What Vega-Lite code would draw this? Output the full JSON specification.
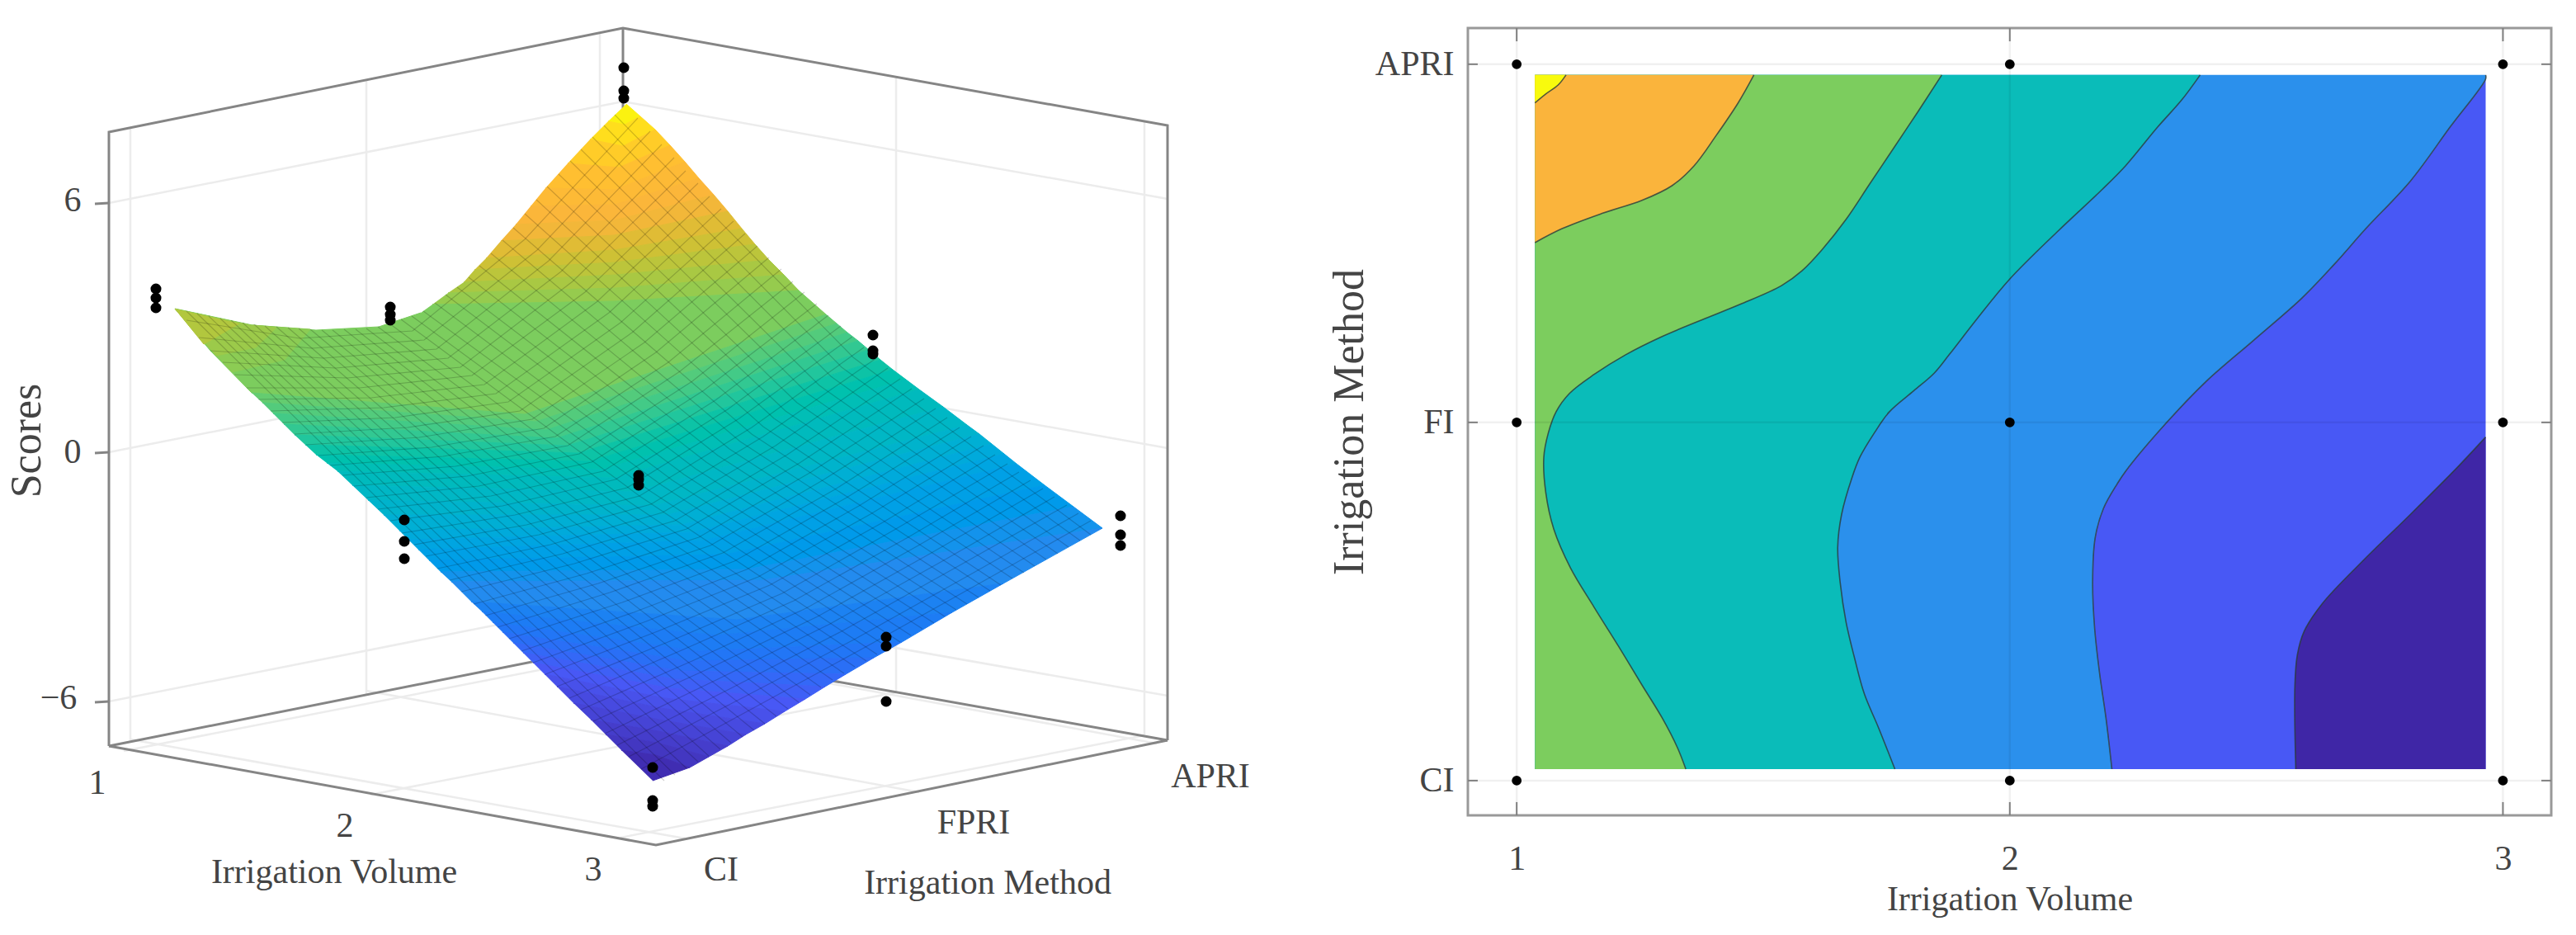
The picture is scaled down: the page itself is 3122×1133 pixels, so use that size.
{"$schema":"https://vega.github.io/schema/vega-lite/v6.json","padding":{"left":0,"top":27,"right":0,"bottom":0},"background":"white","spacing":0,"config":{"text":{"font":"Liberation Serif"},"axis":{"labelFont":"Liberation Serif","titleFont":"Liberation Serif"}},
"datasets":{
"frame":[{"g":"a","x":132,"y":903},{"g":"a","x":132,"y":159},{"g":"a","x":755,"y":33},{"g":"a","x":1415,"y":151},{"g":"a","x":1415,"y":896},{"g":"b","x":755,"y":33},{"g":"b","x":755,"y":780},{"g":"c","x":132,"y":903},{"g":"c","x":755,"y":779},{"g":"c","x":1415,"y":896},{"g":"d","x":132,"y":903},{"g":"d","x":795,"y":1023},{"g":"d","x":1415,"y":896},{"g":"e","x":115,"y":246},{"g":"e","x":132,"y":245},{"g":"f","x":115,"y":548},{"g":"f","x":132,"y":547},{"g":"h","x":115,"y":850},{"g":"h","x":132,"y":849}],
"grid":[{"g":"1","x":158,"y":154},{"g":"1","x":158,"y":897},{"g":"2","x":444,"y":97},{"g":"2","x":444,"y":840},{"g":"3","x":727,"y":39},{"g":"3","x":727,"y":775},{"g":"4","x":1086,"y":92},{"g":"4","x":1086,"y":838},{"g":"5","x":1387,"y":146},{"g":"5","x":1387,"y":889},{"g":"6","x":132,"y":245},{"g":"6","x":755,"y":122},{"g":"6","x":1415,"y":240},{"g":"7","x":132,"y":547},{"g":"7","x":755,"y":424},{"g":"7","x":1415,"y":542},{"g":"8","x":132,"y":849},{"g":"8","x":755,"y":726},{"g":"8","x":1415,"y":842},{"g":"9","x":150,"y":909},{"g":"9","x":787,"y":785},{"g":"10","x":449,"y":962},{"g":"10","x":1086,"y":838},{"g":"11","x":752,"y":1014},{"g":"11","x":1387,"y":890},{"g":"12","x":830,"y":1015},{"g":"12","x":158,"y":895},{"g":"13","x":1114,"y":959},{"g":"13","x":444,"y":836},{"g":"14","x":1402,"y":900},{"g":"14","x":727,"y":776}],
"surface":[
{"b":1,"c":0.99,"x":759,"y":125},{"b":1,"c":0.99,"x":776,"y":140},{"b":1,"c":0.99,"x":757,"y":150},{"b":1,"c":0.99,"x":737,"y":146},
{"b":2,"c":0.9625,"x":737,"y":146},{"b":2,"c":0.9625,"x":757,"y":150},{"b":2,"c":0.9625,"x":776,"y":140},{"b":2,"c":0.9625,"x":794,"y":156},{"b":2,"c":0.9625,"x":755,"y":176},{"b":2,"c":0.9625,"x":715,"y":168},
{"b":3,"c":0.9375,"x":715,"y":168},{"b":3,"c":0.9375,"x":755,"y":176},{"b":3,"c":0.9375,"x":794,"y":156},{"b":3,"c":0.9375,"x":812,"y":175},{"b":3,"c":0.9375,"x":750,"y":202},{"b":3,"c":0.9375,"x":688,"y":197},
{"b":4,"c":0.9125,"x":688,"y":197},{"b":4,"c":0.9125,"x":750,"y":202},{"b":4,"c":0.9125,"x":812,"y":175},{"b":4,"c":0.9125,"x":830,"y":195},{"b":4,"c":0.9125,"x":745,"y":229},{"b":4,"c":0.9125,"x":661,"y":227},
{"b":5,"c":0.8875,"x":661,"y":227},{"b":5,"c":0.8875,"x":745,"y":229},{"b":5,"c":0.8875,"x":830,"y":195},{"b":5,"c":0.8875,"x":847,"y":215},{"b":5,"c":0.8875,"x":745,"y":247},{"b":5,"c":0.8875,"x":643,"y":249},
{"b":6,"c":0.8625,"x":643,"y":249},{"b":6,"c":0.8625,"x":745,"y":247},{"b":6,"c":0.8625,"x":847,"y":215},{"b":6,"c":0.8625,"x":865,"y":235},{"b":6,"c":0.8625,"x":745,"y":266},{"b":6,"c":0.8625,"x":625,"y":271},
{"b":7,"c":0.8375,"x":625,"y":271},{"b":7,"c":0.8375,"x":745,"y":266},{"b":7,"c":0.8375,"x":865,"y":235},{"b":7,"c":0.8375,"x":882,"y":255},{"b":7,"c":0.8375,"x":744,"y":284},{"b":7,"c":0.8375,"x":607,"y":291},
{"b":8,"c":0.8125,"x":607,"y":291},{"b":8,"c":0.8125,"x":744,"y":284},{"b":8,"c":0.8125,"x":882,"y":255},{"b":8,"c":0.8125,"x":899,"y":276},{"b":8,"c":0.8125,"x":744,"y":302},{"b":8,"c":0.8125,"x":589,"y":312},
{"b":9,"c":0.7875,"x":589,"y":312},{"b":9,"c":0.7875,"x":744,"y":302},{"b":9,"c":0.7875,"x":899,"y":276},{"b":9,"c":0.7875,"x":915,"y":295},{"b":9,"c":0.7875,"x":745,"y":317},{"b":9,"c":0.7875,"x":575,"y":326},
{"b":10,"c":0.7625,"x":575,"y":326},{"b":10,"c":0.7625,"x":745,"y":317},{"b":10,"c":0.7625,"x":915,"y":295},{"b":10,"c":0.7625,"x":932,"y":314},{"b":10,"c":0.7625,"x":747,"y":332},{"b":10,"c":0.7625,"x":562,"y":341},
{"b":11,"c":0.7375,"x":562,"y":341},{"b":11,"c":0.7375,"x":747,"y":332},{"b":11,"c":0.7375,"x":932,"y":314},{"b":11,"c":0.7375,"x":950,"y":332},{"b":11,"c":0.7375,"x":746,"y":348},{"b":11,"c":0.7375,"x":543,"y":354},
{"b":12,"c":0.7125,"x":543,"y":354},{"b":12,"c":0.7125,"x":746,"y":348},{"b":12,"c":0.7125,"x":950,"y":332},{"b":12,"c":0.7125,"x":968,"y":351},{"b":12,"c":0.7125,"x":745,"y":364},{"b":12,"c":0.7125,"x":524,"y":368},
{"b":13,"c":0.68,"x":524,"y":368},{"b":13,"c":0.68,"x":745,"y":364},{"b":13,"c":0.68,"x":968,"y":351},{"b":13,"c":0.68,"x":1001,"y":380},{"b":13,"c":0.68,"x":636,"y":501},{"b":13,"c":0.68,"x":305,"y":475},{"b":13,"c":0.68,"x":255,"y":424},{"b":13,"c":0.68,"x":212,"y":373},{"b":13,"c":0.68,"x":306,"y":393},{"b":13,"c":0.68,"x":383,"y":399},{"b":13,"c":0.68,"x":459,"y":395},{"b":13,"c":0.68,"x":510,"y":378},
{"b":14,"c":0.7,"x":212,"y":373},{"b":14,"c":0.7,"x":281,"y":450},{"b":14,"c":0.7,"x":345,"y":435},{"b":14,"c":0.7,"x":376,"y":398},{"b":14,"c":0.7,"x":306,"y":393},
{"b":15,"c":0.72,"x":212,"y":373},{"b":15,"c":0.72,"x":262,"y":430},{"b":15,"c":0.72,"x":310,"y":420},{"b":15,"c":0.72,"x":335,"y":396},{"b":15,"c":0.72,"x":306,"y":393},
{"b":16,"c":0.75,"x":212,"y":373},{"b":16,"c":0.75,"x":247,"y":416},{"b":16,"c":0.75,"x":290,"y":391},
{"b":17,"c":0.65,"x":305,"y":475},{"b":17,"c":0.65,"x":636,"y":501},{"b":17,"c":0.65,"x":1001,"y":380},{"b":17,"c":0.65,"x":1014,"y":391},{"b":17,"c":0.65,"x":649,"y":510},{"b":17,"c":0.65,"x":318,"y":487},
{"b":18,"c":0.63,"x":318,"y":487},{"b":18,"c":0.63,"x":649,"y":510},{"b":18,"c":0.63,"x":1014,"y":391},{"b":18,"c":0.63,"x":1027,"y":402},{"b":18,"c":0.63,"x":662,"y":520},{"b":18,"c":0.63,"x":331,"y":500},
{"b":19,"c":0.61,"x":331,"y":500},{"b":19,"c":0.61,"x":662,"y":520},{"b":19,"c":0.61,"x":1027,"y":402},{"b":19,"c":0.61,"x":1040,"y":412},{"b":19,"c":0.61,"x":675,"y":530},{"b":19,"c":0.61,"x":344,"y":513},
{"b":20,"c":0.59,"x":344,"y":513},{"b":20,"c":0.59,"x":675,"y":530},{"b":20,"c":0.59,"x":1040,"y":412},{"b":20,"c":0.59,"x":1053,"y":423},{"b":20,"c":0.59,"x":688,"y":539},{"b":20,"c":0.59,"x":357,"y":526},
{"b":21,"c":0.57,"x":357,"y":526},{"b":21,"c":0.57,"x":688,"y":539},{"b":21,"c":0.57,"x":1053,"y":423},{"b":21,"c":0.57,"x":1067,"y":435},{"b":21,"c":0.57,"x":701,"y":548},{"b":21,"c":0.57,"x":370,"y":538},
{"b":22,"c":0.55,"x":370,"y":538},{"b":22,"c":0.55,"x":701,"y":548},{"b":22,"c":0.55,"x":1067,"y":435},{"b":22,"c":0.55,"x":1082,"y":447},{"b":22,"c":0.55,"x":715,"y":558},{"b":22,"c":0.55,"x":383,"y":550},
{"b":23,"c":0.53,"x":383,"y":550},{"b":23,"c":0.53,"x":715,"y":558},{"b":23,"c":0.53,"x":1082,"y":447},{"b":23,"c":0.53,"x":1098,"y":459},{"b":23,"c":0.53,"x":729,"y":568},{"b":23,"c":0.53,"x":396,"y":560},
{"b":24,"c":0.51,"x":396,"y":560},{"b":24,"c":0.51,"x":729,"y":568},{"b":24,"c":0.51,"x":1098,"y":459},{"b":24,"c":0.51,"x":1114,"y":471},{"b":24,"c":0.51,"x":744,"y":578},{"b":24,"c":0.51,"x":409,"y":570},
{"b":25,"c":0.49,"x":409,"y":570},{"b":25,"c":0.49,"x":744,"y":578},{"b":25,"c":0.49,"x":1114,"y":471},{"b":25,"c":0.49,"x":1143,"y":492},{"b":25,"c":0.49,"x":768,"y":595},{"b":25,"c":0.49,"x":427,"y":587},
{"b":26,"c":0.47,"x":427,"y":587},{"b":26,"c":0.47,"x":768,"y":595},{"b":26,"c":0.47,"x":1143,"y":492},{"b":26,"c":0.47,"x":1172,"y":514},{"b":26,"c":0.47,"x":792,"y":612},{"b":26,"c":0.47,"x":446,"y":605},
{"b":27,"c":0.45,"x":446,"y":605},{"b":27,"c":0.45,"x":792,"y":612},{"b":27,"c":0.45,"x":1172,"y":514},{"b":27,"c":0.45,"x":1187,"y":525},{"b":27,"c":0.45,"x":809,"y":623},{"b":27,"c":0.45,"x":465,"y":623},
{"b":28,"c":0.43,"x":465,"y":623},{"b":28,"c":0.43,"x":809,"y":623},{"b":28,"c":0.43,"x":1187,"y":525},{"b":28,"c":0.43,"x":1202,"y":537},{"b":28,"c":0.43,"x":826,"y":635},{"b":28,"c":0.43,"x":484,"y":642},
{"b":29,"c":0.41,"x":484,"y":642},{"b":29,"c":0.41,"x":826,"y":635},{"b":29,"c":0.41,"x":1202,"y":537},{"b":29,"c":0.41,"x":1217,"y":549},{"b":29,"c":0.41,"x":839,"y":644},{"b":29,"c":0.41,"x":495,"y":653},
{"b":30,"c":0.39,"x":495,"y":653},{"b":30,"c":0.39,"x":839,"y":644},{"b":30,"c":0.39,"x":1217,"y":549},{"b":30,"c":0.39,"x":1232,"y":561},{"b":30,"c":0.39,"x":853,"y":654},{"b":30,"c":0.39,"x":507,"y":665},
{"b":31,"c":0.37,"x":507,"y":665},{"b":31,"c":0.37,"x":853,"y":654},{"b":31,"c":0.37,"x":1232,"y":561},{"b":31,"c":0.37,"x":1266,"y":587},{"b":31,"c":0.37,"x":879,"y":671},{"b":31,"c":0.37,"x":520,"y":678},
{"b":32,"c":0.35,"x":520,"y":678},{"b":32,"c":0.35,"x":879,"y":671},{"b":32,"c":0.35,"x":1266,"y":587},{"b":32,"c":0.35,"x":1301,"y":613},{"b":32,"c":0.35,"x":905,"y":689},{"b":32,"c":0.35,"x":534,"y":692},
{"b":33,"c":0.33,"x":534,"y":692},{"b":33,"c":0.33,"x":905,"y":689},{"b":33,"c":0.33,"x":1301,"y":613},{"b":33,"c":0.33,"x":1336,"y":639},{"b":33,"c":0.33,"x":924,"y":702},{"b":33,"c":0.33,"x":547,"y":704},
{"b":34,"c":0.3,"x":547,"y":704},{"b":34,"c":0.3,"x":924,"y":702},{"b":34,"c":0.3,"x":1336,"y":639},{"b":34,"c":0.3,"x":1216,"y":706},{"b":34,"c":0.3,"x":893,"y":750},{"b":34,"c":0.3,"x":571,"y":728},
{"b":35,"c":0.27,"x":571,"y":728},{"b":35,"c":0.27,"x":893,"y":750},{"b":35,"c":0.27,"x":1216,"y":706},{"b":35,"c":0.27,"x":1154,"y":741},{"b":35,"c":0.27,"x":869,"y":769},{"b":35,"c":0.27,"x":584,"y":740},
{"b":36,"c":0.25,"x":584,"y":740},{"b":36,"c":0.25,"x":869,"y":769},{"b":36,"c":0.25,"x":1154,"y":741},{"b":36,"c":0.25,"x":1093,"y":777},{"b":36,"c":0.25,"x":845,"y":788},{"b":36,"c":0.25,"x":597,"y":753},
{"b":37,"c":0.23,"x":597,"y":753},{"b":37,"c":0.23,"x":845,"y":788},{"b":37,"c":0.23,"x":1093,"y":777},{"b":37,"c":0.23,"x":1059,"y":796},{"b":37,"c":0.23,"x":834,"y":800},{"b":37,"c":0.23,"x":609,"y":765},
{"b":38,"c":0.21,"x":609,"y":765},{"b":38,"c":0.21,"x":834,"y":800},{"b":38,"c":0.21,"x":1059,"y":796},{"b":38,"c":0.21,"x":1025,"y":816},{"b":38,"c":0.21,"x":824,"y":812},{"b":38,"c":0.21,"x":622,"y":778},
{"b":39,"c":0.19,"x":622,"y":778},{"b":39,"c":0.19,"x":824,"y":812},{"b":39,"c":0.19,"x":1025,"y":816},{"b":39,"c":0.19,"x":1000,"y":831},{"b":39,"c":0.19,"x":818,"y":822},{"b":39,"c":0.19,"x":634,"y":790},
{"b":40,"c":0.17,"x":634,"y":790},{"b":40,"c":0.17,"x":818,"y":822},{"b":40,"c":0.17,"x":1000,"y":831},{"b":40,"c":0.17,"x":976,"y":846},{"b":40,"c":0.17,"x":812,"y":833},{"b":40,"c":0.17,"x":646,"y":802},
{"b":41,"c":0.15,"x":646,"y":802},{"b":41,"c":0.15,"x":812,"y":833},{"b":41,"c":0.15,"x":976,"y":846},{"b":41,"c":0.15,"x":951,"y":861},{"b":41,"c":0.15,"x":806,"y":845},{"b":41,"c":0.15,"x":660,"y":816},
{"b":42,"c":0.13,"x":660,"y":816},{"b":42,"c":0.13,"x":806,"y":845},{"b":42,"c":0.13,"x":951,"y":861},{"b":42,"c":0.13,"x":927,"y":876},{"b":42,"c":0.13,"x":801,"y":857},{"b":42,"c":0.13,"x":675,"y":831},
{"b":43,"c":0.11,"x":675,"y":831},{"b":43,"c":0.11,"x":801,"y":857},{"b":43,"c":0.11,"x":927,"y":876},{"b":43,"c":0.11,"x":904,"y":889},{"b":43,"c":0.11,"x":799,"y":871},{"b":43,"c":0.11,"x":695,"y":851},
{"b":44,"c":0.09,"x":695,"y":851},{"b":44,"c":0.09,"x":799,"y":871},{"b":44,"c":0.09,"x":904,"y":889},{"b":44,"c":0.09,"x":882,"y":903},{"b":44,"c":0.09,"x":798,"y":885},{"b":44,"c":0.09,"x":716,"y":871},
{"b":45,"c":0.07,"x":716,"y":871},{"b":45,"c":0.07,"x":798,"y":885},{"b":45,"c":0.07,"x":882,"y":903},{"b":45,"c":0.07,"x":859,"y":916},{"b":45,"c":0.07,"x":796,"y":899},{"b":45,"c":0.07,"x":734,"y":889},
{"b":46,"c":0.05,"x":734,"y":889},{"b":46,"c":0.05,"x":796,"y":899},{"b":46,"c":0.05,"x":859,"y":916},{"b":46,"c":0.05,"x":836,"y":929},{"b":46,"c":0.05,"x":795,"y":914},{"b":46,"c":0.05,"x":753,"y":908},
{"b":47,"c":0.02,"x":753,"y":908},{"b":47,"c":0.02,"x":795,"y":914},{"b":47,"c":0.02,"x":836,"y":929},{"b":47,"c":0.02,"x":791,"y":945}],
"mesh":[
{"l":1,"x":226,"y":387},{"l":1,"x":363,"y":409},{"l":1,"x":500,"y":400},{"l":1,"x":636,"y":289},{"l":1,"x":773,"y":142},
{"l":2,"x":241,"y":408},{"l":2,"x":378,"y":421},{"l":2,"x":514,"y":411},{"l":2,"x":651,"y":302},{"l":2,"x":788,"y":158},
{"l":3,"x":255,"y":424},{"l":3,"x":392,"y":433},{"l":3,"x":529,"y":422},{"l":3,"x":665,"y":315},{"l":3,"x":802,"y":174},
{"l":4,"x":270,"y":438},{"l":4,"x":407,"y":445},{"l":4,"x":543,"y":433},{"l":4,"x":680,"y":328},{"l":4,"x":817,"y":190},
{"l":5,"x":284,"y":453},{"l":5,"x":421,"y":457},{"l":5,"x":558,"y":444},{"l":5,"x":694,"y":340},{"l":5,"x":831,"y":206},
{"l":6,"x":299,"y":469},{"l":6,"x":436,"y":469},{"l":6,"x":572,"y":454},{"l":6,"x":709,"y":353},{"l":6,"x":846,"y":221},
{"l":7,"x":313,"y":483},{"l":7,"x":450,"y":481},{"l":7,"x":587,"y":465},{"l":7,"x":723,"y":365},{"l":7,"x":860,"y":237},
{"l":8,"x":328,"y":497},{"l":8,"x":465,"y":493},{"l":8,"x":601,"y":476},{"l":8,"x":738,"y":378},{"l":8,"x":874,"y":252},
{"l":9,"x":342,"y":511},{"l":9,"x":479,"y":505},{"l":9,"x":616,"y":486},{"l":9,"x":752,"y":390},{"l":9,"x":889,"y":267},
{"l":10,"x":357,"y":525},{"l":10,"x":494,"y":517},{"l":10,"x":630,"y":497},{"l":10,"x":766,"y":402},{"l":10,"x":903,"y":282},
{"l":11,"x":371,"y":538},{"l":11,"x":508,"y":529},{"l":11,"x":645,"y":507},{"l":11,"x":781,"y":414},{"l":11,"x":918,"y":297},
{"l":12,"x":386,"y":551},{"l":12,"x":523,"y":541},{"l":12,"x":659,"y":518},{"l":12,"x":795,"y":426},{"l":12,"x":932,"y":311},
{"l":13,"x":400,"y":563},{"l":13,"x":537,"y":552},{"l":13,"x":673,"y":528},{"l":13,"x":810,"y":438},{"l":13,"x":947,"y":325},
{"l":14,"x":415,"y":575},{"l":14,"x":552,"y":564},{"l":14,"x":688,"y":539},{"l":14,"x":824,"y":449},{"l":14,"x":961,"y":340},
{"l":15,"x":429,"y":588},{"l":15,"x":566,"y":576},{"l":15,"x":702,"y":549},{"l":15,"x":839,"y":461},{"l":15,"x":975,"y":353},
{"l":16,"x":444,"y":602},{"l":16,"x":580,"y":588},{"l":16,"x":717,"y":559},{"l":16,"x":853,"y":472},{"l":16,"x":990,"y":367},
{"l":17,"x":458,"y":616},{"l":17,"x":595,"y":600},{"l":17,"x":731,"y":570},{"l":17,"x":867,"y":484},{"l":17,"x":1004,"y":381},
{"l":18,"x":473,"y":630},{"l":18,"x":609,"y":612},{"l":18,"x":746,"y":580},{"l":18,"x":882,"y":495},{"l":18,"x":1019,"y":394},
{"l":19,"x":487,"y":645},{"l":19,"x":624,"y":623},{"l":19,"x":760,"y":590},{"l":19,"x":896,"y":506},{"l":19,"x":1033,"y":407},
{"l":20,"x":502,"y":659},{"l":20,"x":638,"y":635},{"l":20,"x":775,"y":600},{"l":20,"x":911,"y":517},{"l":20,"x":1047,"y":420},
{"l":21,"x":516,"y":673},{"l":21,"x":653,"y":647},{"l":21,"x":789,"y":610},{"l":21,"x":925,"y":528},{"l":21,"x":1062,"y":433},
{"l":22,"x":530,"y":688},{"l":22,"x":667,"y":659},{"l":22,"x":803,"y":620},{"l":22,"x":940,"y":539},{"l":22,"x":1076,"y":445},
{"l":23,"x":545,"y":702},{"l":23,"x":682,"y":670},{"l":23,"x":818,"y":630},{"l":23,"x":954,"y":550},{"l":23,"x":1091,"y":458},
{"l":24,"x":559,"y":716},{"l":24,"x":696,"y":682},{"l":24,"x":832,"y":640},{"l":24,"x":969,"y":560},{"l":24,"x":1105,"y":470},
{"l":25,"x":574,"y":731},{"l":25,"x":711,"y":694},{"l":25,"x":847,"y":650},{"l":25,"x":983,"y":571},{"l":25,"x":1120,"y":482},
{"l":26,"x":588,"y":745},{"l":26,"x":725,"y":706},{"l":26,"x":861,"y":660},{"l":26,"x":997,"y":581},{"l":26,"x":1134,"y":494},
{"l":27,"x":603,"y":759},{"l":27,"x":739,"y":717},{"l":27,"x":876,"y":669},{"l":27,"x":1012,"y":592},{"l":27,"x":1148,"y":505},
{"l":28,"x":617,"y":773},{"l":28,"x":754,"y":729},{"l":28,"x":890,"y":679},{"l":28,"x":1026,"y":602},{"l":28,"x":1163,"y":517},
{"l":29,"x":632,"y":788},{"l":29,"x":768,"y":741},{"l":29,"x":905,"y":689},{"l":29,"x":1041,"y":612},{"l":29,"x":1177,"y":528},
{"l":30,"x":646,"y":802},{"l":30,"x":783,"y":752},{"l":30,"x":919,"y":698},{"l":30,"x":1055,"y":622},{"l":30,"x":1192,"y":539},
{"l":31,"x":661,"y":816},{"l":31,"x":797,"y":764},{"l":31,"x":933,"y":708},{"l":31,"x":1070,"y":632},{"l":31,"x":1206,"y":550},
{"l":32,"x":675,"y":831},{"l":32,"x":812,"y":776},{"l":32,"x":948,"y":718},{"l":32,"x":1084,"y":641},{"l":32,"x":1221,"y":561},
{"l":33,"x":690,"y":845},{"l":33,"x":826,"y":787},{"l":33,"x":962,"y":727},{"l":33,"x":1099,"y":651},{"l":33,"x":1235,"y":571},
{"l":34,"x":704,"y":859},{"l":34,"x":841,"y":799},{"l":34,"x":977,"y":736},{"l":34,"x":1113,"y":660},{"l":34,"x":1249,"y":581},
{"l":35,"x":719,"y":873},{"l":35,"x":855,"y":811},{"l":35,"x":991,"y":746},{"l":35,"x":1127,"y":670},{"l":35,"x":1264,"y":591},
{"l":36,"x":733,"y":888},{"l":36,"x":870,"y":822},{"l":36,"x":1006,"y":755},{"l":36,"x":1142,"y":679},{"l":36,"x":1278,"y":601},
{"l":37,"x":748,"y":902},{"l":37,"x":884,"y":834},{"l":37,"x":1020,"y":764},{"l":37,"x":1156,"y":688},{"l":37,"x":1293,"y":611},
{"l":38,"x":762,"y":916},{"l":38,"x":899,"y":845},{"l":38,"x":1035,"y":774},{"l":38,"x":1171,"y":698},{"l":38,"x":1307,"y":621},
{"l":39,"x":777,"y":931},{"l":39,"x":913,"y":857},{"l":39,"x":1049,"y":783},{"l":39,"x":1185,"y":707},{"l":39,"x":1322,"y":630},
{"l":101,"x":226,"y":376},{"l":101,"x":515,"y":659},{"l":101,"x":805,"y":945},
{"l":102,"x":239,"y":379},{"l":102,"x":529,"y":658},{"l":102,"x":818,"y":938},
{"l":103,"x":253,"y":382},{"l":103,"x":542,"y":658},{"l":103,"x":832,"y":930},
{"l":104,"x":267,"y":385},{"l":104,"x":556,"y":657},{"l":104,"x":846,"y":922},
{"l":105,"x":280,"y":387},{"l":105,"x":570,"y":656},{"l":105,"x":859,"y":915},
{"l":106,"x":294,"y":390},{"l":106,"x":583,"y":654},{"l":106,"x":873,"y":907},
{"l":107,"x":308,"y":392},{"l":107,"x":597,"y":652},{"l":107,"x":886,"y":899},
{"l":108,"x":321,"y":394},{"l":108,"x":611,"y":650},{"l":108,"x":900,"y":892},
{"l":109,"x":335,"y":395},{"l":109,"x":624,"y":647},{"l":109,"x":914,"y":884},
{"l":110,"x":349,"y":396},{"l":110,"x":638,"y":644},{"l":110,"x":927,"y":876},
{"l":111,"x":362,"y":397},{"l":111,"x":652,"y":641},{"l":111,"x":941,"y":867},
{"l":112,"x":376,"y":398},{"l":112,"x":665,"y":638},{"l":112,"x":955,"y":858},
{"l":113,"x":390,"y":399},{"l":113,"x":679,"y":634},{"l":113,"x":968,"y":850},
{"l":114,"x":403,"y":399},{"l":114,"x":693,"y":630},{"l":114,"x":982,"y":841},
{"l":115,"x":417,"y":398},{"l":115,"x":706,"y":626},{"l":115,"x":995,"y":832},
{"l":116,"x":431,"y":398},{"l":116,"x":720,"y":621},{"l":116,"x":1009,"y":823},
{"l":117,"x":444,"y":397},{"l":117,"x":734,"y":616},{"l":117,"x":1023,"y":815},
{"l":118,"x":458,"y":395},{"l":118,"x":747,"y":611},{"l":118,"x":1036,"y":807},
{"l":119,"x":472,"y":391},{"l":119,"x":761,"y":606},{"l":119,"x":1050,"y":800},
{"l":120,"x":486,"y":386},{"l":120,"x":775,"y":600},{"l":120,"x":1063,"y":792},
{"l":121,"x":499,"y":382},{"l":121,"x":788,"y":594},{"l":121,"x":1077,"y":784},
{"l":122,"x":513,"y":376},{"l":122,"x":802,"y":587},{"l":122,"x":1091,"y":777},
{"l":123,"x":527,"y":366},{"l":123,"x":815,"y":581},{"l":123,"x":1104,"y":769},
{"l":124,"x":540,"y":356},{"l":124,"x":829,"y":574},{"l":124,"x":1118,"y":761},
{"l":125,"x":554,"y":347},{"l":125,"x":843,"y":567},{"l":125,"x":1132,"y":754},
{"l":126,"x":568,"y":335},{"l":126,"x":856,"y":559},{"l":126,"x":1145,"y":746},
{"l":127,"x":581,"y":321},{"l":127,"x":870,"y":551},{"l":127,"x":1159,"y":738},
{"l":128,"x":595,"y":306},{"l":128,"x":884,"y":543},{"l":128,"x":1172,"y":731},
{"l":129,"x":609,"y":290},{"l":129,"x":897,"y":534},{"l":129,"x":1186,"y":723},
{"l":130,"x":622,"y":275},{"l":130,"x":911,"y":525},{"l":130,"x":1200,"y":715},
{"l":131,"x":636,"y":258},{"l":131,"x":925,"y":516},{"l":131,"x":1213,"y":708},
{"l":132,"x":650,"y":241},{"l":132,"x":938,"y":506},{"l":132,"x":1227,"y":700},
{"l":133,"x":663,"y":225},{"l":133,"x":952,"y":497},{"l":133,"x":1241,"y":693},
{"l":134,"x":677,"y":210},{"l":134,"x":966,"y":487},{"l":134,"x":1254,"y":685},
{"l":135,"x":691,"y":194},{"l":135,"x":979,"y":476},{"l":135,"x":1268,"y":677},
{"l":136,"x":704,"y":180},{"l":136,"x":993,"y":466},{"l":136,"x":1282,"y":670},
{"l":137,"x":718,"y":165},{"l":137,"x":1007,"y":455},{"l":137,"x":1295,"y":662},
{"l":138,"x":732,"y":151},{"l":138,"x":1020,"y":444},{"l":138,"x":1309,"y":654},
{"l":139,"x":745,"y":138},{"l":139,"x":1034,"y":432},{"l":139,"x":1322,"y":647}],
"points":[{"x":189,"y":349},{"x":189,"y":360},{"x":189,"y":372},{"x":473,"y":371},{"x":473,"y":380},{"x":473,"y":387},{"x":756,"y":81},{"x":756,"y":109},{"x":756,"y":118},{"x":1058,"y":405},{"x":1058,"y":424},{"x":1058,"y":428},{"x":774,"y":575},{"x":774,"y":580},{"x":774,"y":587},{"x":490,"y":629},{"x":490,"y":655},{"x":490,"y":676},{"x":791,"y":929},{"x":791,"y":969},{"x":791,"y":976},{"x":1358,"y":624},{"x":1358,"y":647},{"x":1358,"y":660},{"x":1074,"y":771},{"x":1074,"y":782},{"x":1074,"y":849}],
"labels":[{"x":88,"y":242,"t":"6"},{"x":88,"y":547,"t":"0"},{"x":71,"y":845,"t":"−6"},{"x":118,"y":948,"t":"1"},{"x":418,"y":1000,"t":"2"},{"x":719,"y":1053,"t":"3"},{"x":405,"y":1056,"t":"Irrigation Volume"},{"x":874,"y":1053,"t":"CI"},{"x":1180,"y":996,"t":"FPRI"},{"x":1467,"y":940,"t":"APRI"},{"x":1197,"y":1069,"t":"Irrigation Method"}],
"contour":[
{"k":1,"v":1.1,"m":1.97},{"k":1,"v":1.084,"m":1.942},{"k":1,"v":1.059,"m":1.917},{"k":1,"v":1.037,"m":1.892},
{"k":2,"v":1.481,"m":1.97},{"k":2,"v":1.449,"m":1.892},{"k":2,"v":1.404,"m":1.8},{"k":2,"v":1.36,"m":1.717},{"k":2,"v":1.315,"m":1.661},{"k":2,"v":1.254,"m":1.62},{"k":2,"v":1.172,"m":1.583},{"k":2,"v":1.092,"m":1.541},{"k":2,"v":1.037,"m":1.502},
{"k":3,"v":1.862,"m":1.97},{"k":3,"v":1.813,"m":1.866},{"k":3,"v":1.765,"m":1.767},{"k":3,"v":1.716,"m":1.666},{"k":3,"v":1.668,"m":1.567},{"k":3,"v":1.619,"m":1.482},{"k":3,"v":1.579,"m":1.424},{"k":3,"v":1.537,"m":1.382},{"k":3,"v":1.457,"m":1.332},{"k":3,"v":1.375,"m":1.286},{"k":3,"v":1.295,"m":1.24},{"k":3,"v":1.221,"m":1.189},{"k":3,"v":1.157,"m":1.134},{"k":3,"v":1.107,"m":1.081},{"k":3,"v":1.08,"m":1.03},{"k":3,"v":1.064,"m":0.97},{"k":3,"v":1.055,"m":0.903},{"k":3,"v":1.059,"m":0.804},{"k":3,"v":1.075,"m":0.703},{"k":3,"v":1.109,"m":0.594},{"k":3,"v":1.157,"m":0.484},{"k":3,"v":1.206,"m":0.376},{"k":3,"v":1.254,"m":0.267},{"k":3,"v":1.295,"m":0.175},{"k":3,"v":1.326,"m":0.092},{"k":3,"v":1.343,"m":0.032},
{"k":4,"v":2.386,"m":1.97},{"k":4,"v":2.349,"m":1.901},{"k":4,"v":2.3,"m":1.825},{"k":4,"v":2.235,"m":1.717},{"k":4,"v":2.187,"m":1.65},{"k":4,"v":2.096,"m":1.532},{"k":4,"v":1.999,"m":1.399},{"k":4,"v":1.934,"m":1.29},{"k":4,"v":1.877,"m":1.189},{"k":4,"v":1.847,"m":1.138},{"k":4,"v":1.805,"m":1.088},{"k":4,"v":1.756,"m":1.03},{"k":4,"v":1.725,"m":0.97},{"k":4,"v":1.696,"m":0.903},{"k":4,"v":1.68,"m":0.846},{"k":4,"v":1.659,"m":0.744},{"k":4,"v":1.651,"m":0.652},{"k":4,"v":1.656,"m":0.553},{"k":4,"v":1.668,"m":0.442},{"k":4,"v":1.685,"m":0.343},{"k":4,"v":1.705,"m":0.242},{"k":4,"v":1.733,"m":0.15},{"k":4,"v":1.767,"m":0.032},
{"k":5,"v":2.965,"m":1.97},{"k":5,"v":2.965,"m":1.959},{"k":5,"v":2.893,"m":1.825},{"k":5,"v":2.813,"m":1.675},{"k":5,"v":2.722,"m":1.541},{"k":5,"v":2.657,"m":1.44},{"k":5,"v":2.593,"m":1.348},{"k":5,"v":2.495,"m":1.23},{"k":5,"v":2.397,"m":1.113},{"k":5,"v":2.315,"m":0.995},{"k":5,"v":2.235,"m":0.864},{"k":5,"v":2.218,"m":0.829},{"k":5,"v":2.19,"m":0.76},{"k":5,"v":2.173,"m":0.677},{"k":5,"v":2.168,"m":0.553},{"k":5,"v":2.172,"m":0.426},{"k":5,"v":2.182,"m":0.3},{"k":5,"v":2.195,"m":0.175},{"k":5,"v":2.207,"m":0.032},
{"k":6,"v":2.965,"m":0.959},{"k":6,"v":2.91,"m":0.878},{"k":6,"v":2.813,"m":0.744},{"k":6,"v":2.714,"m":0.611},{"k":6,"v":2.633,"m":0.493},{"k":6,"v":2.597,"m":0.417},{"k":6,"v":2.583,"m":0.35},{"k":6,"v":2.578,"m":0.258},{"k":6,"v":2.58,"m":0.032}],
"rgrid":[{"g":"a","v":1,"m":-0.097},{"g":"a","v":1,"m":2.101},{"g":"b","v":2,"m":-0.097},{"g":"b","v":2,"m":2.101},{"g":"c","v":3,"m":-0.097},{"g":"c","v":3,"m":2.101},{"g":"d","v":0.901,"m":0},{"g":"d","v":3.098,"m":0},{"g":"e","v":0.901,"m":1},{"g":"e","v":3.098,"m":1},{"g":"f","v":0.901,"m":2},{"g":"f","v":3.098,"m":2}],
"rticks":[{"g":"a","v":1,"m":-0.097},{"g":"a","v":1,"m":-0.06},{"g":"b","v":2,"m":-0.097},{"g":"b","v":2,"m":-0.06},{"g":"c","v":3,"m":-0.097},{"g":"c","v":3,"m":-0.06},{"g":"d","v":1,"m":2.101},{"g":"d","v":1,"m":2.064},{"g":"e","v":2,"m":2.101},{"g":"e","v":2,"m":2.064},{"g":"f","v":3,"m":2.101},{"g":"f","v":3,"m":2.064},{"g":"h","v":0.901,"m":0},{"g":"h","v":0.921,"m":0},{"g":"i","v":0.901,"m":1},{"g":"i","v":0.921,"m":1},{"g":"j","v":0.901,"m":2},{"g":"j","v":0.921,"m":2},{"g":"k","v":3.098,"m":0},{"g":"k","v":3.078,"m":0},{"g":"l","v":3.098,"m":1},{"g":"l","v":3.078,"m":1},{"g":"n","v":3.098,"m":2},{"g":"n","v":3.078,"m":2}],
"rpoints":[{"v":1,"m":0},{"v":2,"m":0},{"v":3,"m":0},{"v":1,"m":1},{"v":2,"m":1},{"v":3,"m":1},{"v":1,"m":2},{"v":2,"m":2},{"v":3,"m":2}]
},
"hconcat":[
{"width":1607,"height":1100,"view":{"stroke":null},
"encoding":{"x":{"field":"x","type":"quantitative","scale":{"domain":[0,1607]},"axis":null},"y":{"field":"y","type":"quantitative","scale":{"domain":[1133,33]},"axis":null}},
"layer":[
{"data":{"name":"grid"},"mark":{"type":"line","stroke":"#ececec","strokeWidth":2.5},"encoding":{"detail":{"field":"g"},"order":{"value":null}}},
{"data":{"name":"frame"},"mark":{"type":"line","stroke":"#858585","strokeWidth":3},"encoding":{"detail":{"field":"g"},"order":{"value":null}}},
{"data":{"name":"surface"},"mark":{"type":"line","strokeWidth":1},"encoding":{"detail":{"field":"b"},"order":{"value":null},"fill":{"field":"c","type":"quantitative","legend":null,"scale":{"domain":[0,0.15,0.32,0.5,0.68,0.85,0.92,1],"range":["#3e26a8","#4858f5","#2b90ec","#0abcb9","#7ccd5e","#fab43c","#ffc030","#f8fa0d"]}},"stroke":{"field":"c","type":"quantitative","legend":null,"scale":{"domain":[0,0.15,0.32,0.5,0.68,0.85,0.92,1],"range":["#3e26a8","#4858f5","#2b90ec","#0abcb9","#7ccd5e","#fab43c","#ffc030","#f8fa0d"]}}}},
{"data":{"name":"mesh"},"mark":{"type":"line","stroke":"#000000","strokeOpacity":0.19,"strokeWidth":1.2},"encoding":{"detail":{"field":"l"},"order":{"value":null}}},
{"data":{"name":"points"},"mark":{"type":"point","filled":true,"color":"#000000","size":170,"opacity":1}},
{"data":{"name":"labels"},"mark":{"type":"text","fontSize":42,"color":"#444444","font":"Liberation Serif"},"encoding":{"text":{"field":"t"}}},
{"data":{"values":[{"x":33,"y":533,"t":"Scores"}]},"mark":{"type":"text","fontSize":52,"angle":270,"color":"#444444","font":"Liberation Serif"},"encoding":{"text":{"field":"t"}}}
]},
{"width":1313,"height":954,"view":{"stroke":"#999999","strokeWidth":3},
"encoding":{"x":{"field":"v","type":"quantitative","scale":{"domain":[0.901,3.098],"nice":false,"zero":false},"axis":{"values":[1,2,3],"title":"Irrigation Volume","grid":false,"domain":false,"ticks":false,"labelFontSize":42,"titleFontSize":42,"titleFontWeight":"normal","labelColor":"#444444","titleColor":"#444444","labelPadding":32,"titlePadding":8}},"y":{"field":"m","type":"quantitative","scale":{"domain":[-0.097,2.101],"nice":false,"zero":false},"axis":{"values":[0,1,2],"labelExpr":"datum.value==0?'CI':datum.value==1?'FI':'APRI'","title":"Irrigation Method","grid":false,"domain":false,"ticks":false,"labelFontSize":42,"titleFontSize":52,"titleFontWeight":"normal","labelColor":"#444444","titleColor":"#444444","labelPadding":17,"titlePadding":4}}},
"layer":[
{"data":{"name":"contour"},"transform":[{"filter":"datum.k==5"}],"mark":{"type":"area","orient":"horizontal","interpolate":"catmull-rom","color":"#4858f5"},"encoding":{"x2":{"datum":2.965},"order":{"value":null}}},
{"data":{"name":"contour"},"transform":[{"filter":"datum.k==6"}],"mark":{"type":"area","orient":"horizontal","interpolate":"catmull-rom","color":"#3f26a6"},"encoding":{"x2":{"datum":2.965},"order":{"value":null}}},
{"data":{"name":"contour"},"transform":[{"filter":"datum.k==5"}],"mark":{"type":"area","orient":"horizontal","interpolate":"catmull-rom","color":"#2b90ec"},"encoding":{"x2":{"datum":1.037},"order":{"value":null}}},
{"data":{"name":"contour"},"transform":[{"filter":"datum.k==4"}],"mark":{"type":"area","orient":"horizontal","interpolate":"catmull-rom","color":"#0abcb9"},"encoding":{"x2":{"datum":1.037},"order":{"value":null}}},
{"data":{"name":"contour"},"transform":[{"filter":"datum.k==3"}],"mark":{"type":"area","orient":"horizontal","interpolate":"catmull-rom","color":"#7ccd5e"},"encoding":{"x2":{"datum":1.037},"order":{"value":null}}},
{"data":{"name":"contour"},"transform":[{"filter":"datum.k==2"}],"mark":{"type":"area","orient":"horizontal","interpolate":"catmull-rom","color":"#fab43c"},"encoding":{"x2":{"datum":1.037},"order":{"value":null}}},
{"data":{"name":"contour"},"transform":[{"filter":"datum.k==1"}],"mark":{"type":"area","orient":"horizontal","interpolate":"catmull-rom","color":"#f8fa0d"},"encoding":{"x2":{"datum":1.037},"order":{"value":null}}},
{"data":{"name":"contour"},"mark":{"type":"line","interpolate":"catmull-rom","stroke":"#2b3b3b","strokeWidth":1.6,"strokeOpacity":0.8},"encoding":{"detail":{"field":"k"},"order":{"value":null}}},
{"data":{"name":"rgrid"},"mark":{"type":"line","stroke":"#000000","strokeOpacity":0.06,"strokeWidth":2.5},"encoding":{"detail":{"field":"g"},"order":{"value":null}}},
{"data":{"name":"rticks"},"mark":{"type":"line","stroke":"#808080","strokeWidth":2},"encoding":{"detail":{"field":"g"},"order":{"value":null}}},
{"data":{"name":"rpoints"},"mark":{"type":"point","filled":true,"color":"#000000","size":140,"opacity":1}}
]}
]}
